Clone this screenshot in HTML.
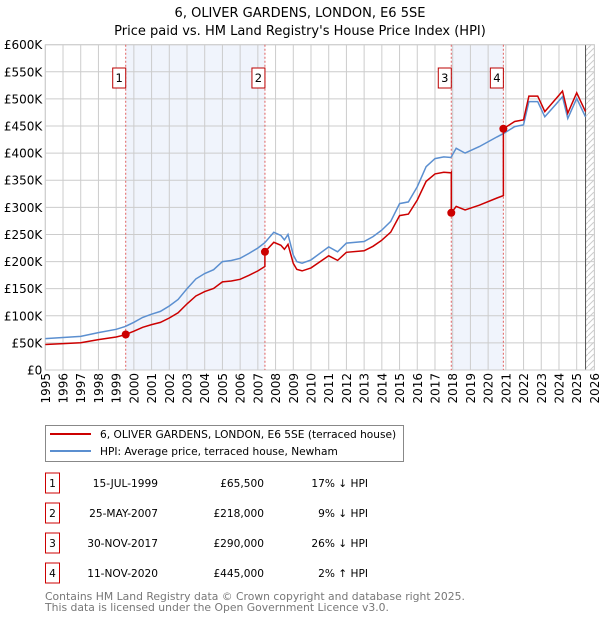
<!DOCTYPE html>
<html><head><meta charset="utf-8"><style>
body{margin:0;background:#fff;}
svg{display:block;font-family:"DejaVu Sans","Liberation Sans",sans-serif;}
</style></head><body>
<svg id="chart" width="600" height="620" xmlns="http://www.w3.org/2000/svg">
<text x="300" y="17" text-anchor="middle" font-size="13">6, OLIVER GARDENS, LONDON, E6 5SE</text>
<text x="300" y="35" text-anchor="middle" font-size="13">Price paid vs. HM Land Registry's House Price Index (HPI)</text>
<g id="plot"></g>
<g>
<rect x="45.5" y="425.5" width="358" height="36" fill="#fff" stroke="#888"/>
<line x1="50" y1="434" x2="91" y2="434" stroke="#cc0000" stroke-width="2"/>
<text x="100" y="438" font-size="10.6">6, OLIVER GARDENS, LONDON, E6 5SE (terraced house)</text>
<line x1="50" y1="451" x2="91" y2="451" stroke="#5b8fd0" stroke-width="2"/>
<text x="100" y="455" font-size="10.6">HPI: Average price, terraced house, Newham</text>
</g>
<g id="table" font-size="10.6"></g>
<text x="45" y="600" font-size="10.8" fill="#777">Contains HM Land Registry data © Crown copyright and database right 2025.</text>
<text x="45" y="611" font-size="10.8" fill="#777">This data is licensed under the Open Government Licence v3.0.</text>
</svg>
<script>
const hpiYears=[1995,1996,1997,1998,1999,1999.5,2000,2000.5,2001,2001.5,2002,2002.5,2003,2003.5,2004,2004.5,2005,2005.5,2006,2006.5,2007,2007.4,2007.9,2008.3,2008.5,2008.7,2009,2009.2,2009.5,2010,2011,2011.5,2012,2013,2013.5,2014,2014.5,2015,2015.5,2016,2016.5,2017,2017.5,2017.9,2018.2,2018.7,2019.5,2020.5,2020.86,2021.5,2022,2022.3,2022.8,2023.2,2023.8,2024.2,2024.5,2025,2025.5];
const hpiValues=[58,60,62,69,75,80,88,97,103,108,118,130,150,168,178,185,200,202,206,215,225,235,254,248,240,250,212,200,197,203,227,218,234,237,246,258,274,307,310,338,375,390,393,392,409,400,412,430,436,449,452,495,495,467,489,504,464,501,467];
const saleYears=[1999.54,2007.4,2017.92,2020.86];
const salePrices=[65.5,218,290,445];
const saleDates=["15-JUL-1999","25-MAY-2007","30-NOV-2017","11-NOV-2020"];
const salePriceLabels=["£65,500","£218,000","£290,000","£445,000"];
const saleHpiLabels=["17% ↓ HPI","9% ↓ HPI","26% ↓ HPI","2% ↑ HPI"];
const yTicks=[0,50,100,150,200,250,300,350,400,450,500,550,600];
const yTickLabels=["£0","£50K","£100K","£150K","£200K","£250K","£300K","£350K","£400K","£450K","£500K","£550K","£600K"];
const xTicks=[1995,1996,1997,1998,1999,2000,2001,2002,2003,2004,2005,2006,2007,2008,2009,2010,2011,2012,2013,2014,2015,2016,2017,2018,2019,2020,2021,2022,2023,2024,2025,2026];
const dataEnd=2025.5;

const NS="http://www.w3.org/2000/svg";
const L=45.3,R=594.4,T=44.7,B=370;
const X=y=>L+(y-1995)*(R-L)/31;
const Y=v=>B-v*(B-T)/600;
function mk(tag,attrs,parent){const e=document.createElementNS(NS,tag);for(const k in attrs)e.setAttribute(k,attrs[k]);parent.appendChild(e);return e;}
const plot=document.getElementById('plot');
function hpiAt(t){for(let i=0;i<hpiYears.length-1;i++){if(t<=hpiYears[i+1]){const f=(t-hpiYears[i])/(hpiYears[i+1]-hpiYears[i]);return hpiValues[i]+f*(hpiValues[i+1]-hpiValues[i]);}}return hpiValues[hpiValues.length-1];}

for(let k=0;k<saleYears.length;k+=2){
 const r=mk('rect',{x:X(saleYears[k]),y:T,width:X(saleYears[k+1])-X(saleYears[k]),height:B-T,fill:'#f0f4fc'},plot);
 
 
}
xTicks.forEach((t,i)=>{
 const g=mk('line',{x1:X(t),x2:X(t),y1:T,y2:B,stroke:'#ccc','stroke-width':1},plot);
 
 
 const tx=mk('text',{x:0,y:0,'font-size':12,'text-anchor':'end',transform:`translate(${X(t)+4.5},${B+3}) rotate(-90)`},plot);
 tx.textContent=t;
 
 
});
yTicks.forEach((v,i)=>{
 const g=mk('line',{x1:L,x2:R,y1:Y(v),y2:Y(v),stroke:'#ccc','stroke-width':1},plot);
 
 
 const tx=mk('text',{x:L-3,y:Y(v)+4.5,'font-size':12,'text-anchor':'end'},plot);
 tx.textContent=yTickLabels[i];
 
 
});
const defs=mk('defs',{},plot);
const pat=mk('pattern',{id:'hatch',width:6,height:6,patternUnits:'userSpaceOnUse'},defs);
mk('path',{d:'M0,6 L6,0',stroke:'#ccc','stroke-width':1},pat);
const hr=mk('rect',{x:X(dataEnd),y:T,width:R-X(dataEnd),height:B-T,fill:'url(#hatch)'},plot);


const el=mk('line',{x1:X(dataEnd),x2:X(dataEnd),y1:T,y2:B,stroke:'#555','stroke-width':1},plot);


mk('rect',{x:L,y:T,width:R-L,height:B-T,fill:'none',stroke:'#ccc'},plot);

saleYears.forEach((s,k)=>{
 const l=mk('line',{x1:X(s),x2:X(s),y1:T,y2:B,stroke:'#e06060','stroke-width':1,'stroke-dasharray':'2,2'},plot);
 
 
 mk('rect',{x:X(s)-13,y:68,width:13,height:20,fill:'#fff',stroke:'#b00','stroke-width':1},plot);
 const t=mk('text',{x:X(s)-6.5,y:82,'font-size':11.5,'text-anchor':'middle'},plot);
 t.textContent=k+1;
 
 
});
let d='';hpiYears.forEach((t,i)=>{d+=(i?'L':'M')+X(t).toFixed(1)+','+Y(hpiValues[i]).toFixed(1);});
const hp=mk('path',{d:d,fill:'none',stroke:'#5b8fd0','stroke-width':1.5},plot);


function seg(t){let k=0;for(let i=0;i<saleYears.length;i++)if(t>=saleYears[i])k=i;return k;}
const pts=[];
const times=hpiYears.concat(saleYears).sort((a,b)=>a-b);
times.forEach(t=>{
 const isSale=saleYears.indexOf(t);
 if(isSale>0){const kp=isSale-1;pts.push([t,salePrices[kp]*hpiAt(t)/hpiAt(saleYears[kp])]);}
 const k=seg(t);pts.push([t,salePrices[k]*hpiAt(t)/hpiAt(saleYears[k])]);
});
let d2='';pts.forEach((p,i)=>{d2+=(i?'L':'M')+X(p[0]).toFixed(1)+','+Y(p[1]).toFixed(1);});
const pp=mk('path',{d:d2,fill:'none',stroke:'#cc0000','stroke-width':1.5},plot);


saleYears.forEach((s,k)=>{
 const c=mk('circle',{cx:X(s),cy:Y(salePrices[k]),r:4,fill:'#cc0000'},plot);
 
 
});
const tb=document.getElementById('table');
saleDates.forEach((dt,k)=>{
 const yc=483+k*30;
 mk('rect',{x:45.5,y:yc-10,width:14,height:20,fill:'#fff',stroke:'#c00'},tb);
 const n=mk('text',{x:52.5,y:yc+4,'text-anchor':'middle'},tb);n.textContent=k+1;
 
 
 const a=mk('text',{x:158,y:yc+4,'text-anchor':'end'},tb);a.textContent=dt;
 
 
 const b=mk('text',{x:264,y:yc+4,'text-anchor':'end'},tb);b.textContent=salePriceLabels[k];
 
 
 const c=mk('text',{x:368,y:yc+4,'text-anchor':'end'},tb);c.textContent=saleHpiLabels[k];
 
 
});
</script>
</body></html>
